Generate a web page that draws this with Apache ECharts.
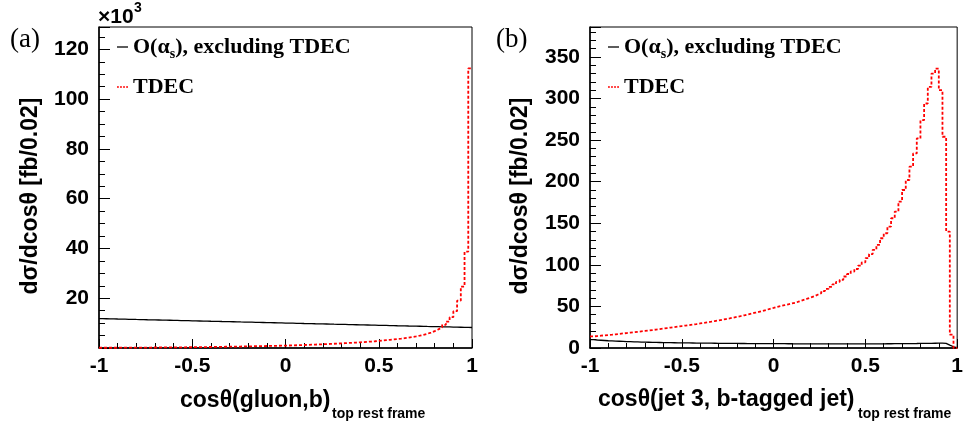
<!DOCTYPE html>
<html>
<head>
<meta charset="utf-8">
<script src="https://cdn.jsdelivr.net/npm/echarts@6/dist/echarts.min.js"></script>
<style>
html,body{margin:0;padding:0;background:#fff;}
#chart{width:966px;height:428px;}
</style>
</head>
<body>
<div id="chart"></div>
<script>
// ---- data: 100 bins of width 0.02 from -1 to 1 ----
const binLow = -1, binWidth = 0.02;
const xTicks = [-1, -0.5, 0, 0.5, 1];

// panel (a): cos theta(gluon, b), values in units of 10^3 fb/0.02
const aOas = [
  11.8,11.76,11.72,11.69,11.65,11.62,11.58,11.54,11.51,11.47,11.44,11.4,11.36,11.33,11.29,11.26,11.22,11.18,11.15,11.11,11.08,11.04,11.0,10.97,10.93,
  10.9,10.86,10.82,10.79,10.75,10.72,10.68,10.64,10.61,10.57,10.54,10.5,10.46,10.43,10.39,10.36,10.32,10.28,10.25,10.21,10.18,10.14,10.1,10.07,10.03,
  10.0,9.96,9.92,9.89,9.85,9.82,9.78,9.74,9.71,9.67,9.64,9.6,9.56,9.53,9.49,9.46,9.42,9.38,9.35,9.31,9.28,9.24,9.2,9.17,9.13,
  9.1,9.06,9.02,8.99,8.95,8.92,8.88,8.84,8.81,8.77,8.74,8.7,8.66,8.63,8.59,8.56,8.52,8.48,8.45,8.41,8.38,8.34,8.3,8.27,8.23
];
const aTdec = [
  0.1,0.1,0.1,0.11,0.11,0.12,0.12,0.13,0.14,0.15,0.16,0.17,0.18,0.19,0.2,0.21,0.22,0.23,0.24,0.25,0.26,0.27,0.29,0.3,0.31,
  0.33,0.35,0.37,0.39,0.41,0.43,0.45,0.47,0.5,0.52,0.55,0.58,0.6,0.63,0.66,0.69,0.72,0.75,0.78,0.81,0.84,0.87,0.9,0.93,0.97,
  1.0,1.05,1.1,1.15,1.2,1.26,1.32,1.38,1.44,1.5,1.57,1.64,1.71,1.78,1.86,1.94,2.02,2.1,2.19,2.28,2.38,2.48,2.6,2.72,2.85,
  3.0,3.15,3.3,3.45,3.6,3.75,3.95,4.15,4.4,4.65,4.95,5.3,5.7,6.2,6.8,7.5,8.3,9.3,10.6,12.4,14.8,19.0,24.7,38.7,112.4
];
const aYTicks = [20, 40, 60, 80, 100, 120];

// panel (b): cos theta(jet 3, b-tagged jet), fb/0.02
const bOas = [
  10,9.6,9.3,9,8.7,8.5,8.3,8.1,7.9,7.7,7.6,7.4,7.3,7.1,7,6.9,6.8,6.7,6.6,6.5,6.4,6.35,6.3,6.2,6.15,
  6.1,6.05,6,5.95,5.9,5.85,5.8,5.75,5.7,5.65,5.6,5.55,5.5,5.48,5.45,5.42,5.4,5.37,5.35,5.32,5.3,5.28,5.25,5.22,5.2,
  5.2,5.18,5.15,5.13,5.1,5.08,5.05,5.03,5.0,5.0,4.98,4.96,4.95,4.94,4.93,4.92,4.91,4.9,4.9,4.9,4.9,4.9,4.92,4.94,4.96,
  4.98,5.0,5.02,5.05,5.08,5.1,5.13,5.16,5.2,5.24,5.28,5.32,5.36,5.4,5.45,5.5,5.55,5.6,5.7,5.8,5.9,5.6,3.5,1.5,0.3
];
const bTdec = [
  14,14.4,14.8,15.2,15.6,16,16.5,17,17.5,18,18.5,19,19.5,20,20.5,21,21.6,22.2,22.8,23.4,24,24.6,25.2,25.8,26.4,
  27,27.6,28.2,28.8,29.5,30.2,30.9,31.6,32.4,33.2,34,34.8,35.6,36.5,37.4,38.3,39.3,40.3,41.3,42.4,43.5,44.6,45.8,47,48.2,
  49.5,50.5,51.5,52.5,53.5,54.5,56,57.5,59,60.5,62,64,66,68.5,71,73.5,76.5,79.5,82,86,89,92,95,99,103,
  108,113,118,124,132,138,146,156,164,176,190,202,218,234,252,274,294,314,330,336,310,254,140,16,0
];
const bYTicks = [0, 50, 100, 150, 200, 250, 300, 350];

const nameOas = 'O(αs), excluding TDEC';
const nameTdec = 'TDEC';

// ---- build step data (bin low edges + closing point) ----
function hist(vals) {
  const d = vals.map((v, i) => [+(binLow + i * binWidth).toFixed(2), v]);
  d.push([1, vals[vals.length - 1]]);
  return d;
}

const FONT = 'Liberation Sans, Arial, Helvetica, sans-serif';
const SERIF = 'Liberation Serif, Times New Roman, serif';
const ICON_SOLID = 'path://M0,0h12v1.4h-12z';
const ICON_DASH = 'path://M0,0h2v1.6h-2z M3.3,0h2v1.6h-2z M6.6,0h2v1.6h-2z M9.9,0h2v1.6h-2z';

function xAxisCfg(grid) {
  return {
    gridIndex: grid, type: 'value', min: -1, max: 1, interval: 0.5,
    axisLine: { onZero: false, lineStyle: { color: '#000', width: 1.5 } },
    axisTick: { inside: true, length: 9, lineStyle: { color: '#000', width: 1 } },
    minorTick: { show: true, splitNumber: 5, length: 5, lineStyle: { color: '#000', width: 1 } },
    axisLabel: { color: '#000', fontFamily: FONT, fontWeight: 'bold', fontSize: 21, margin: 8,
      formatter: v => xTicks.includes(v) ? String(v) : '' },
    splitLine: { show: false }, minorSplitLine: { show: false }
  };
}
function yMain(grid, max, interval, ticks) {
  return {
    gridIndex: grid, type: 'value', min: 0, max: max, interval: interval, position: 'left',
    axisLine: { show: true, onZero: false, lineStyle: { color: '#000', width: 1.5 } },
    axisTick: { show: true, inside: true, length: 11, lineStyle: { color: '#000', width: 1 } },
    axisLabel: { color: '#000', fontFamily: FONT, fontWeight: 'bold', fontSize: 21, margin: 10,
      showMaxLabel: true, formatter: v => ticks.includes(v) ? String(v) : '' },
    splitLine: { show: false }
  };
}
function yMinor(grid, max, interval) {
  return {
    gridIndex: grid, type: 'value', min: 0, max: max, interval: interval, position: 'left', offset: 0,
    axisLine: { show: false, onZero: false }, axisLabel: { show: false },
    axisTick: { show: true, inside: true, length: 6, lineStyle: { color: '#000', width: 1 } },
    splitLine: { show: false }
  };
}
function line(name, xi, yi, vals, dashed) {
  return {
    name: name, type: 'line', step: 'end', symbol: 'none', xAxisIndex: xi, yAxisIndex: yi,
    data: hist(vals), animation: false, clip: true,
    lineStyle: dashed ? { color: '#ff0000', width: 1.8, type: [3, 2] } : { color: '#000', width: 1.3 },
    itemStyle: { color: dashed ? '#ff0000' : '#000' }
  };
}
function legendCfg(left, top, name) {
  const dashed = name === nameTdec;
  return {
    left: left, top: top, padding: 0, itemWidth: 11, itemHeight: 2, orient: 'vertical',
    selectedMode: false,
    data: [{ name: name, icon: dashed ? ICON_DASH : ICON_SOLID,
             itemStyle: { color: dashed ? '#ff0000' : '#000' } }],
    formatter: n => n === nameTdec ? '{b|TDEC}' : '{b|O(α}{s|s}{b|), excluding TDEC}',
    textStyle: { rich: {
      b: { fontFamily: SERIF, fontWeight: 'bold', fontSize: 22, color: '#000', lineHeight: 28 },
      s: { fontFamily: SERIF, fontWeight: 'bold', fontSize: 14, color: '#000', lineHeight: 14, verticalAlign: 'bottom' }
    } }
  };
}
function txt(x, y, text, font, opts) {
  return Object.assign({ type: 'text', x: x, y: y, silent: true,
    style: { text: text, font: font, fill: '#000', textAlign: 'left', textVerticalAlign: 'middle' } }, opts || {});
}

const option = {
  backgroundColor: '#fff',
  animation: false,
  grid: [
    { left: 99, top: 27, width: 373, height: 321, show: true, borderColor: '#000', borderWidth: 1 },
    { left: 590, top: 27, width: 372, height: 321, show: true, borderColor: '#000', borderWidth: 1 }
  ],
  xAxis: [xAxisCfg(0), xAxisCfg(1)],
  yAxis: [yMain(0, 129, 20, aYTicks), yMinor(0, 129, 5), yMain(1, 386, 50, bYTicks), yMinor(1, 386, 10)],
  legend: [
    legendCfg(117, 36, nameOas), legendCfg(117, 76, nameTdec),
    legendCfg(608, 36, nameOas), legendCfg(608, 76, nameTdec)
  ],
  series: [
    line(nameOas, 0, 0, aOas, false),
    line(nameTdec, 0, 0, aTdec, true),
    line(nameOas, 1, 2, bOas, false),
    line(nameTdec, 1, 2, bTdec, true)
  ],
  graphic: [
    txt(10, 40, '(a)', '27px ' + SERIF),
    txt(496, 40, '(b)', '27px ' + SERIF),
    txt(98, 17, '×10', 'bold 21px ' + FONT),
    txt(134, 8, '3', 'bold 14px ' + FONT),
    { type: 'text', x: 31, y: 196, rotation: Math.PI / 2, silent: true,
      style: { text: 'dσ/dcosθ [fb/0.02]', font: 'bold 23px ' + FONT, fill: '#000', textAlign: 'center', textVerticalAlign: 'middle' } },
    { type: 'text', x: 521, y: 196, rotation: Math.PI / 2, silent: true,
      style: { text: 'dσ/dcosθ [fb/0.02]', font: 'bold 23px ' + FONT, fill: '#000', textAlign: 'center', textVerticalAlign: 'middle' } },
    txt(180, 401, 'cosθ(gluon,b)', 'bold 23px ' + FONT),
    txt(332, 414, 'top rest frame', 'bold 14px ' + FONT),
    txt(598, 400, 'cosθ(jet 3, b-tagged jet)', 'bold 23px ' + FONT),
    txt(858, 414, 'top rest frame', 'bold 14px ' + FONT)
  ]
};

const chart = echarts.init(document.getElementById('chart'), null, { renderer: 'canvas' });
chart.setOption(option);
</script>
</body>
</html>
